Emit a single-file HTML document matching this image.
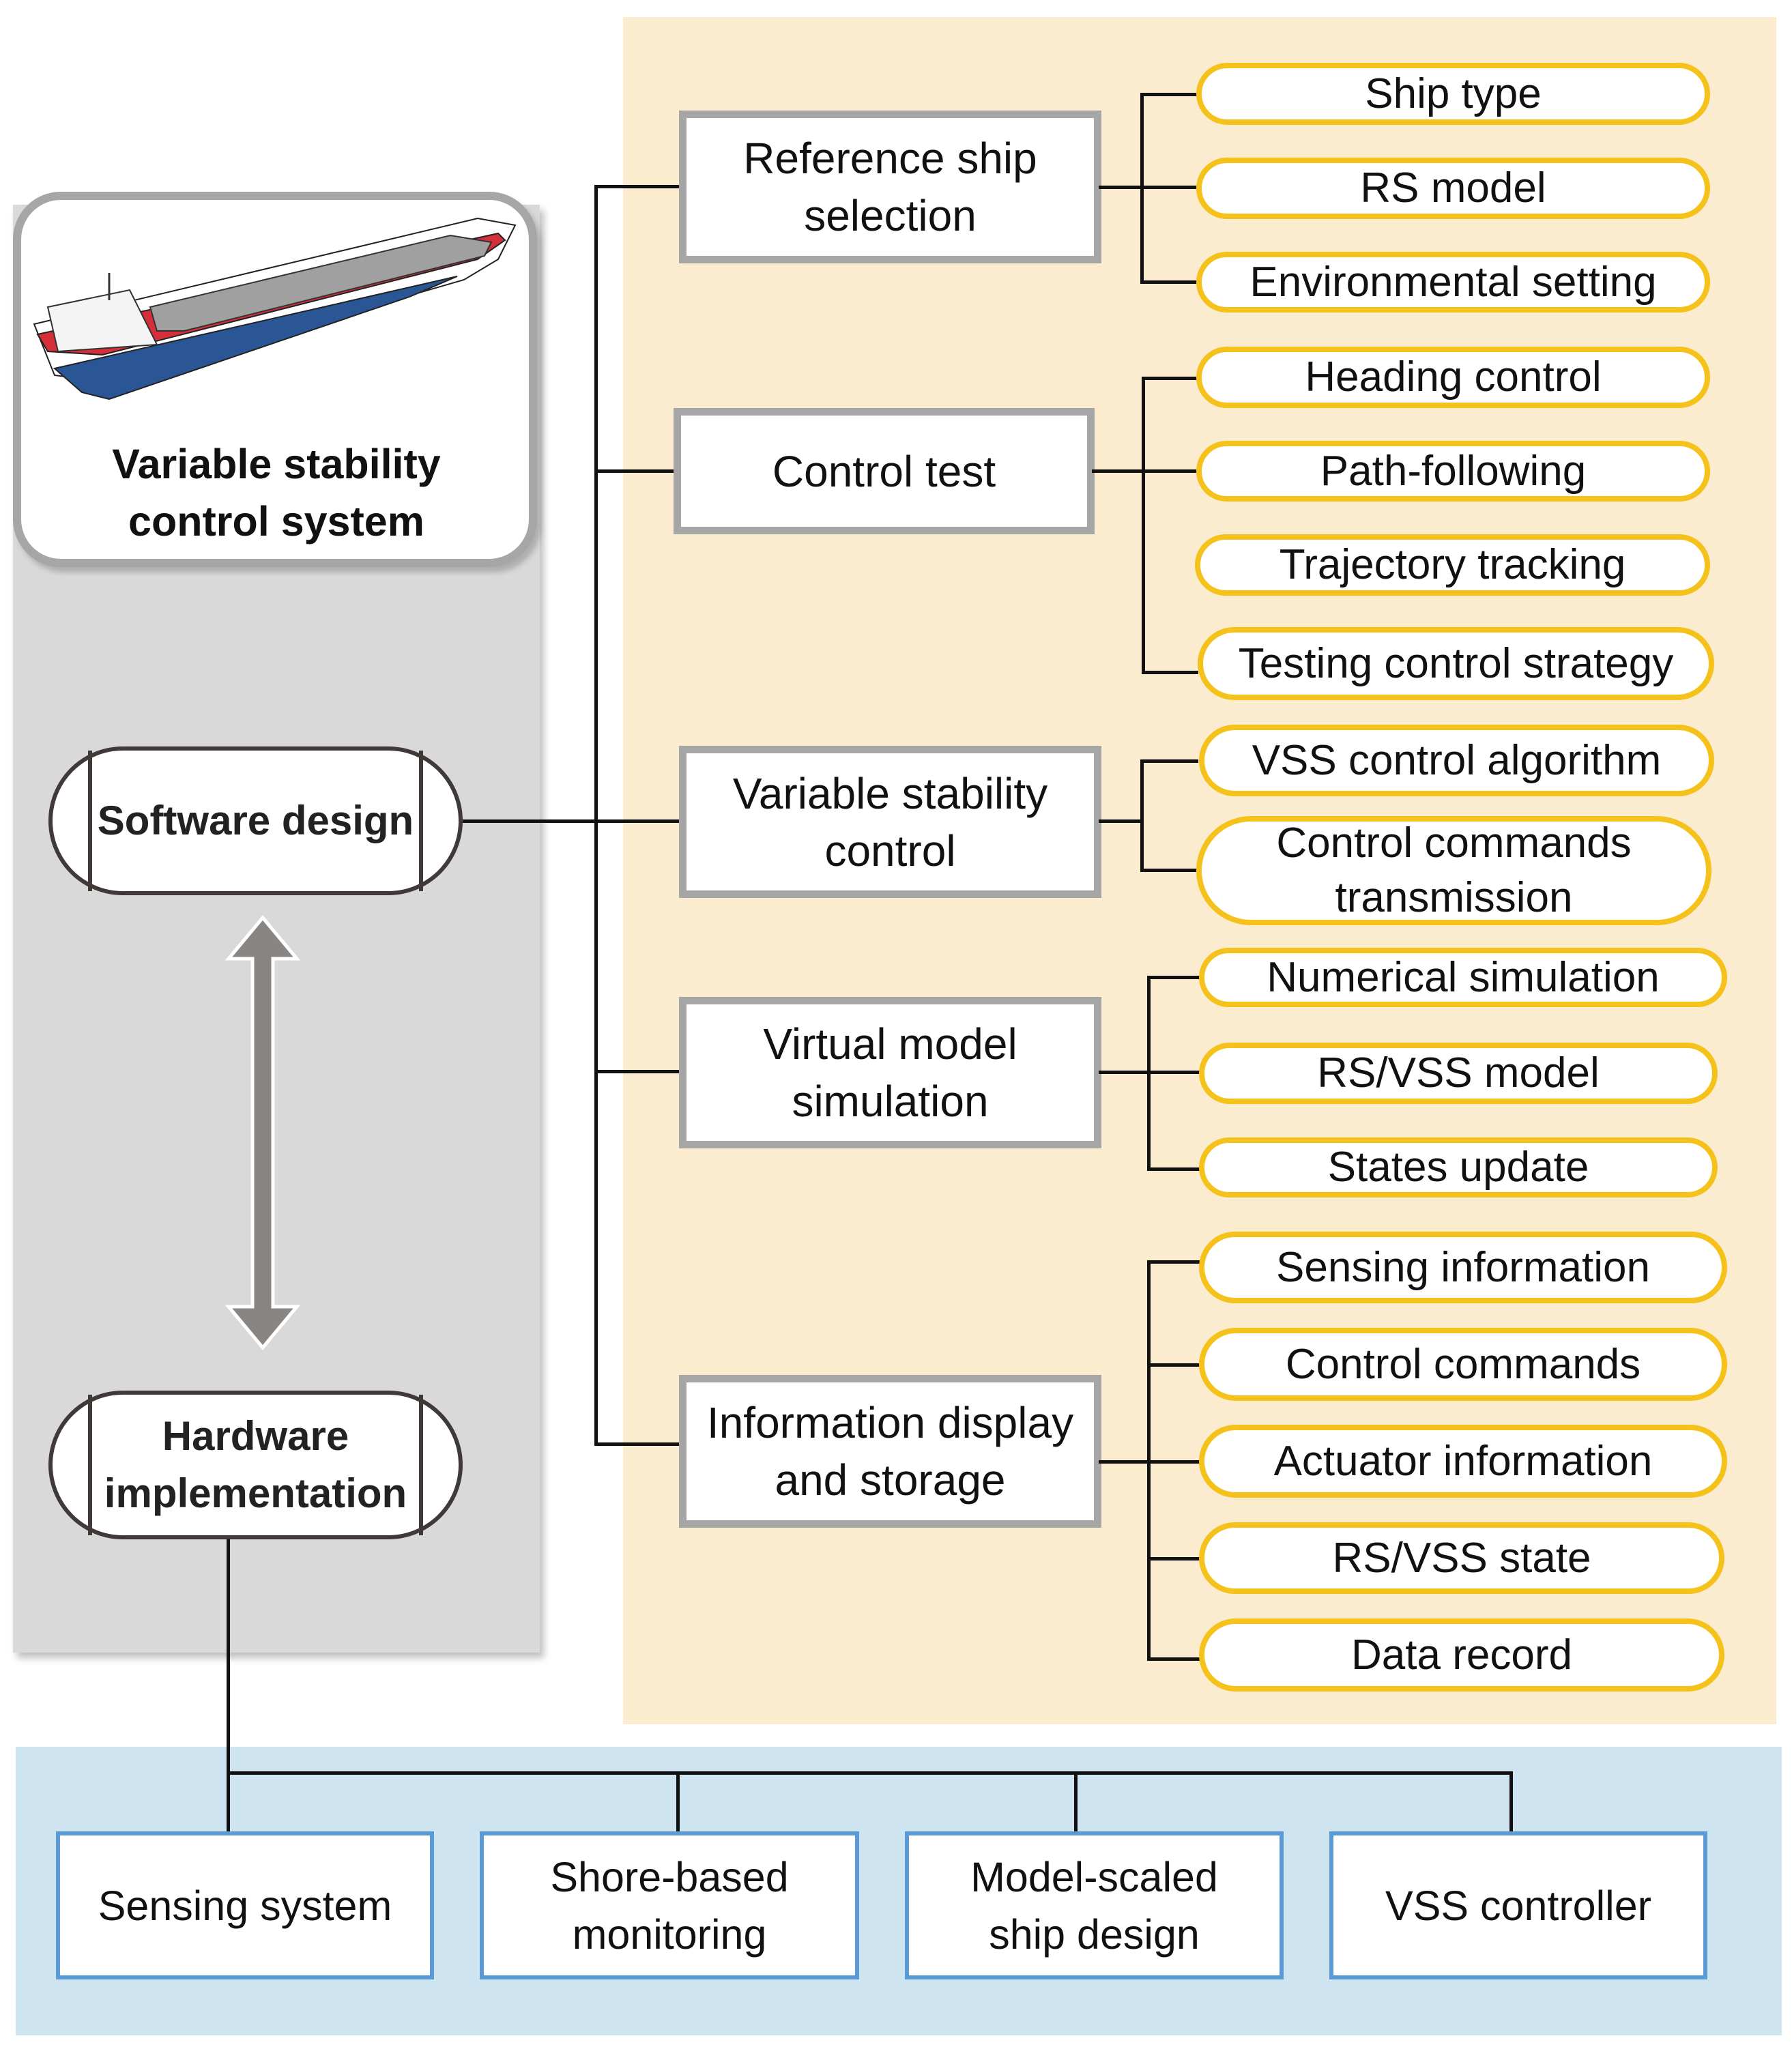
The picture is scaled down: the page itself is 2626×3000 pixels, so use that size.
<!DOCTYPE html>
<html><head><meta charset="utf-8"><style>
body{margin:0;width:2626px;height:3000px;background:#fff;position:relative;overflow:hidden;font-family:"Liberation Sans",sans-serif;}
div{position:absolute;box-sizing:border-box;}
.l{background:#111;}
.mb{background:#fff;border:11px solid #a6a6a6;display:flex;align-items:center;justify-content:center;text-align:center;font-size:64px;line-height:84px;color:#111;}
.pl{background:#fff;border:8px solid #f5c21b;border-radius:60px;display:flex;align-items:center;justify-content:center;text-align:center;font-size:62px;line-height:80px;color:#111;white-space:nowrap;}
.bb{background:#fff;border:6px solid #5b9bd5;display:flex;align-items:center;justify-content:center;text-align:center;font-size:61px;line-height:84px;color:#111;}
.cap{background:#fff;border:6px solid #3f3a38;border-radius:110px/110px;display:flex;align-items:center;justify-content:center;text-align:center;font-weight:bold;font-size:60px;line-height:84px;color:#222;}
.cap:before,.cap:after{content:"";position:absolute;top:0;bottom:0;width:6px;background:#3f3a38;}
.cap:before{left:52px}.cap:after{right:52px}
</style></head><body>
<div style="left:913px;top:25px;width:1690px;height:2502px;background:#fbecd0"></div>
<div style="left:23px;top:2560px;width:2588px;height:423px;background:#cfe4f1"></div>
<div style="left:19px;top:300px;width:772px;height:2122px;background:#d9d9d9;box-shadow:6px 8px 10px rgba(0,0,0,0.25)"></div>
<div style="left:19px;top:281px;width:768px;height:550px;background:#fff;border:12px solid #a6a6a6;border-radius:70px;box-shadow:6px 8px 8px rgba(0,0,0,0.2)"></div>
<svg style="position:absolute;left:40px;top:300px" width="720" height="320" viewBox="0 0 720 320">
<polygon points="10,175 660,20 715,30 690,80 640,110 120,260 40,250" fill="#fff" stroke="#222" stroke-width="2"/>
<polygon points="15,190 690,42 700,52 660,80 110,220 30,215" fill="#d62f3c" stroke="#222" stroke-width="2"/>
<polygon points="40,240 630,105 560,135 120,285 80,275" fill="#2b5696" stroke="#222" stroke-width="2"/>
<polygon points="180,150 620,45 680,55 670,75 230,185 190,185" fill="#a0a0a0" stroke="#333" stroke-width="2"/>
<polygon points="30,150 150,125 190,205 45,215" fill="#f4f4f4" stroke="#333" stroke-width="2"/>
<line x1="120" y1="100" x2="120" y2="140" stroke="#333" stroke-width="3"/>
</svg>
<div style="left:40px;top:638px;width:730px;text-align:center;font-weight:bold;font-size:61px;line-height:84px;color:#111">Variable stability<br>control system</div>

<div class="cap" style="left:71px;top:1094px;width:607px;height:218px">Software design</div>
<div class="cap" style="left:71px;top:2038px;width:607px;height:218px">Hardware<br>implementation</div>
<svg style="position:absolute;left:320px;top:1340px" width="130" height="640" viewBox="0 0 130 640">
<polygon points="65,5 115,65 80,65 80,575 115,575 65,635 15,575 50,575 50,65 15,65" fill="#898583" stroke="#fff" stroke-width="5"/>
</svg>

<div class="l" style="left:871px;top:273px;width:5px;height:1846px"></div>
<div class="l" style="left:871px;top:271px;width:128px;height:5px"></div>
<div class="l" style="left:871px;top:688px;width:120px;height:5px"></div>
<div class="l" style="left:678px;top:1201px;width:321px;height:5px"></div>
<div class="l" style="left:871px;top:1568px;width:128px;height:5px"></div>
<div class="l" style="left:871px;top:2114px;width:128px;height:5px"></div>

<div class="mb" style="left:995px;top:162px;width:619px;height:224px">Reference ship<br>selection</div>
<div class="mb" style="left:987px;top:598px;width:617px;height:185px">Control test</div>
<div class="mb" style="left:995px;top:1093px;width:619px;height:223px">Variable stability<br>control</div>
<div class="mb" style="left:995px;top:1461px;width:619px;height:222px">Virtual model<br>simulation</div>
<div class="mb" style="left:995px;top:2015px;width:619px;height:224px">Information display<br>and storage</div>

<div class="l" style="left:1610px;top:272px;width:146px;height:5px"></div>
<div class="l" style="left:1671px;top:136px;width:5px;height:280px"></div>
<div class="l" style="left:1671px;top:136px;width:85px;height:5px"></div>
<div class="l" style="left:1671px;top:411px;width:85px;height:5px"></div>

<div class="l" style="left:1600px;top:688px;width:156px;height:5px"></div>
<div class="l" style="left:1673px;top:552px;width:5px;height:436px"></div>
<div class="l" style="left:1673px;top:552px;width:83px;height:5px"></div>
<div class="l" style="left:1673px;top:983px;width:83px;height:5px"></div>

<div class="l" style="left:1610px;top:1201px;width:65px;height:5px"></div>
<div class="l" style="left:1671px;top:1113px;width:5px;height:165px"></div>
<div class="l" style="left:1671px;top:1113px;width:85px;height:5px"></div>
<div class="l" style="left:1671px;top:1273px;width:85px;height:5px"></div>

<div class="l" style="left:1610px;top:1569px;width:150px;height:5px"></div>
<div class="l" style="left:1681px;top:1430px;width:5px;height:285px"></div>
<div class="l" style="left:1681px;top:1430px;width:79px;height:5px"></div>
<div class="l" style="left:1681px;top:1711px;width:79px;height:5px"></div>

<div class="l" style="left:1610px;top:2140px;width:150px;height:5px"></div>
<div class="l" style="left:1681px;top:1847px;width:5px;height:586px"></div>
<div class="l" style="left:1681px;top:1847px;width:79px;height:5px"></div>
<div class="l" style="left:1681px;top:1998px;width:79px;height:5px"></div>
<div class="l" style="left:1681px;top:2282px;width:79px;height:5px"></div>
<div class="l" style="left:1681px;top:2429px;width:79px;height:5px"></div>

<div class="pl" style="left:1753px;top:92px;width:753px;height:91px">Ship type</div>
<div class="pl" style="left:1753px;top:231px;width:753px;height:90px">RS model</div>
<div class="pl" style="left:1753px;top:369px;width:753px;height:89px">Environmental setting</div>
<div class="pl" style="left:1753px;top:508px;width:753px;height:90px">Heading control</div>
<div class="pl" style="left:1753px;top:646px;width:753px;height:89px">Path-following</div>
<div class="pl" style="left:1751px;top:783px;width:755px;height:90px">Trajectory tracking</div>
<div class="pl" style="left:1755px;top:919px;width:757px;height:107px">Testing control strategy</div>
<div class="pl" style="left:1757px;top:1062px;width:755px;height:105px">VSS control algorithm</div>
<div class="pl" style="left:1753px;top:1196px;width:755px;height:160px;border-radius:80px">Control commands<br>transmission</div>
<div class="pl" style="left:1757px;top:1389px;width:774px;height:87px">Numerical simulation</div>
<div class="pl" style="left:1757px;top:1528px;width:760px;height:90px">RS/VSS model</div>
<div class="pl" style="left:1757px;top:1667px;width:760px;height:88px">States update</div>
<div class="pl" style="left:1757px;top:1805px;width:774px;height:105px">Sensing information</div>
<div class="pl" style="left:1757px;top:1946px;width:774px;height:107px">Control commands</div>
<div class="pl" style="left:1757px;top:2088px;width:774px;height:107px">Actuator information</div>
<div class="pl" style="left:1757px;top:2231px;width:770px;height:105px">RS/VSS state</div>
<div class="pl" style="left:1757px;top:2372px;width:770px;height:107px">Data record</div>

<div class="l" style="left:332px;top:2256px;width:5px;height:430px"></div>
<div class="l" style="left:332px;top:2596px;width:1885px;height:5px"></div>
<div class="l" style="left:991px;top:2596px;width:5px;height:90px"></div>
<div class="l" style="left:1574px;top:2596px;width:5px;height:90px"></div>
<div class="l" style="left:2212px;top:2596px;width:5px;height:90px"></div>
<div class="bb" style="left:82px;top:2684px;width:554px;height:217px">Sensing system</div>
<div class="bb" style="left:703px;top:2684px;width:556px;height:217px">Shore-based<br>monitoring</div>
<div class="bb" style="left:1326px;top:2684px;width:555px;height:217px">Model-scaled<br>ship design</div>
<div class="bb" style="left:1948px;top:2684px;width:554px;height:217px">VSS controller</div>
</body></html>
